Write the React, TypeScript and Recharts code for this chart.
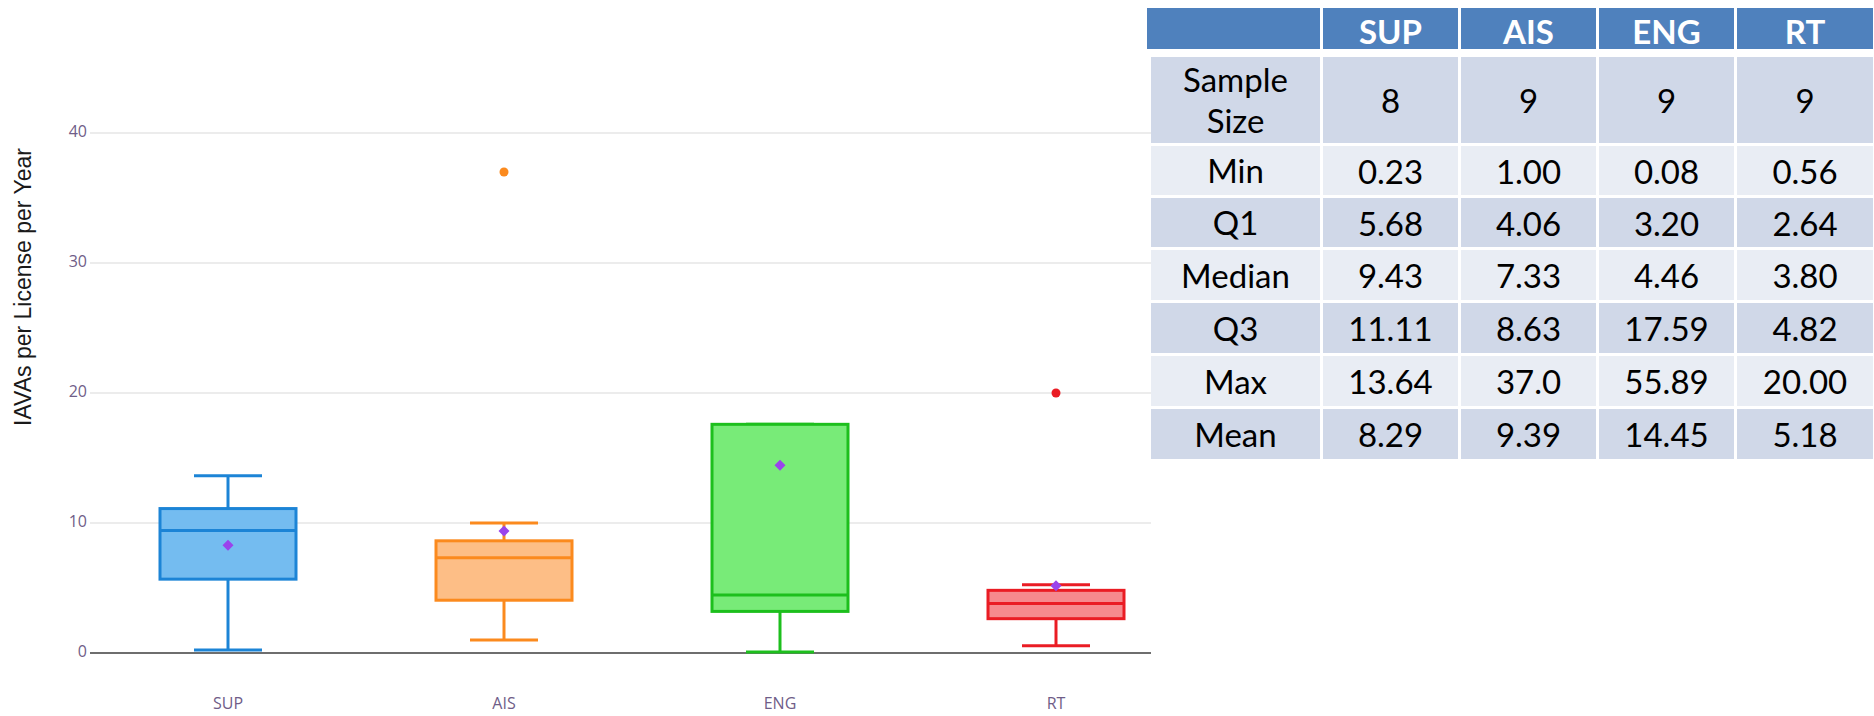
import React from "react";
import {
  ComposedChart,
  Bar,
  Scatter,
  XAxis,
  YAxis,
  CartesianGrid,
} from "recharts";

// chart values
const categories = ["SUP", "AIS", "ENG", "RT"];
const lows = [0.23, 1.0, 0.08, 0.56];
const q1s = [5.68, 4.06, 3.2, 2.64];
const medians = [9.43, 7.33, 4.46, 3.8];
const q3s = [11.11, 8.63, 17.59, 4.82];
const highs = [13.64, 10.0, 17.59, 5.25];
const means = [8.29, 9.39, 14.45, 5.18];
const outliers: (number | null)[] = [null, 37, null, 20];
const yTicks = [0, 10, 20, 30, 40];
const gridValues = [10, 20, 30, 40];

// summary table text
const tableColumns = ["SUP", "AIS", "ENG", "RT"];
const statLabels = ["Sample Size", "Min", "Q1", "Median", "Q3", "Max", "Mean"];
const sampleSizeText = ["8", "9", "9", "9"];
const minText = ["0.23", "1.00", "0.08", "0.56"];
const q1Text = ["5.68", "4.06", "3.20", "2.64"];
const medianText = ["9.43", "7.33", "4.46", "3.80"];
const q3Text = ["11.11", "8.63", "17.59", "4.82"];
const maxText = ["13.64", "37.0", "55.89", "20.00"];
const meanText = ["8.29", "9.39", "14.45", "5.18"];
const tableRows = [sampleSizeText, minText, q1Text, medianText, q3Text, maxText, meanText];

const boxStrokes = ["#1c84d6", "#fb8a1e", "#1dbf1d", "#ea1c24"];
const boxFills = ["#74bcf0", "#fdbe86", "#78eb78", "#f68a8e"];
const meanColor = "#9a43ec";
const tickColor = "#6f5d88";

const data = categories.map((name, i) => ({
  name,
  low: lows[i],
  q1: q1s[i],
  median: medians[i],
  q3: q3s[i],
  high: highs[i],
  mean: means[i],
  outlier: outliers[i],
}));

function BoxShape(props: any) {
  const { x, y, width, height, payload } = props;
  const i = categories.indexOf(payload.name);
  const span = payload.high - payload.low;
  // map a value into the bar's [low, high] pixel range
  const toY = (v: number) => y + (height * (payload.high - v)) / span;
  const cx = x + width / 2;
  const cap = width / 4;
  const stroke = boxStrokes[i];
  const yQ1 = toY(payload.q1);
  const yQ3 = toY(payload.q3);
  const yMed = toY(payload.median);
  const yLo = toY(payload.low);
  const yHi = toY(payload.high);
  return (
    <g>
      <line x1={cx} x2={cx} y1={yQ1} y2={yLo} stroke={stroke} strokeWidth={3} />
      <line x1={cx} x2={cx} y1={yQ3} y2={yHi} stroke={stroke} strokeWidth={3} />
      <line x1={cx - cap} x2={cx + cap} y1={yLo} y2={yLo} stroke={stroke} strokeWidth={3} />
      <line x1={cx - cap} x2={cx + cap} y1={yHi} y2={yHi} stroke={stroke} strokeWidth={3} />
      <rect
        x={x}
        y={yQ3}
        width={width}
        height={yQ1 - yQ3}
        fill={boxFills[i]}
        stroke={stroke}
        strokeWidth={3}
      />
      <line x1={x} x2={x + width} y1={yMed} y2={yMed} stroke={stroke} strokeWidth={3} />
    </g>
  );
}

function MeanShape(props: any) {
  const { cx, cy } = props;
  const r = 5.5;
  return (
    <path
      d={`M${cx},${cy - r} L${cx + r},${cy} L${cx},${cy + r} L${cx - r},${cy} Z`}
      fill={meanColor}
    />
  );
}

function OutlierShape(props: any) {
  const { cx, cy, payload } = props;
  if (payload.outlier == null || isNaN(cy)) return <g />;
  const i = categories.indexOf(payload.name);
  return <circle cx={cx} cy={cy} r={4.5} fill={boxStrokes[i]} />;
}

function XTick(props: any) {
  const { x, y, payload } = props;
  return (
    <text
      x={x}
      y={y + 52}
      textAnchor="middle"
      dominantBaseline="middle"
      fontFamily="'Open Sans', sans-serif"
      fontSize={16}
      fill={tickColor}
    >
      {payload.value}
    </text>
  );
}

function YTick(props: any) {
  const { x, y, payload } = props;
  return (
    <text
      x={x}
      y={y}
      textAnchor="end"
      dominantBaseline="middle"
      fontFamily="'Open Sans', sans-serif"
      fontSize={16}
      fill={tickColor}
    >
      {payload.value}
    </text>
  );
}

function StatsTable() {
  const colWidths = [135, 135, 135, 136];
  const font = "Lato, 'Open Sans', sans-serif";
  return (
    <>
      <div
        style={{
          position: "absolute",
          left: 1147,
          top: 8,
          display: "grid",
          gridTemplateColumns: `173px ${colWidths.map((w) => w + "px").join(" ")}`,
          gridTemplateRows: "41px",
          columnGap: 3,
          fontFamily: font,
        }}
      >
        <div style={{ background: "#4f81bd" }} />
        {tableColumns.map((c) => (
          <div
            key={c}
            style={{
              background: "#4f81bd",
              color: "#fff",
              fontWeight: 700,
              fontSize: 33,
              display: "flex",
              alignItems: "center",
              justifyContent: "center",
              paddingTop: 4,
            }}
          >
            {c}
          </div>
        ))}
      </div>
      <div
        style={{
          position: "absolute",
          left: 1151,
          top: 57,
          display: "grid",
          gridTemplateColumns: `169px ${colWidths.map((w) => w + "px").join(" ")}`,
          gridTemplateRows: "86px 49px 49px 50px 50px 50px 50px",
          gap: 3,
          background: "#fff",
          fontFamily: font,
          fontSize: 33,
          color: "#000",
        }}
      >
        {statLabels.map((label, r) => {
          const bg = r % 2 === 0 ? "#d0d8e8" : "#e9edf4";
          const cell: React.CSSProperties = {
            background: bg,
            display: "flex",
            alignItems: "center",
            justifyContent: "center",
            textAlign: "center",
          };
          return (
            <React.Fragment key={label}>
              <div style={{ ...cell, lineHeight: "41px" }}>
                {label === "Sample Size" ? (
                  <span>
                    Sample
                    <br />
                    Size
                  </span>
                ) : (
                  label
                )}
              </div>
              {tableRows[r].map((v, c) => (
                <div key={c} style={cell}>
                  {v}
                </div>
              ))}
            </React.Fragment>
          );
        })}
      </div>
    </>
  );
}

export default function App() {
  return (
    <div
      style={{
        position: "absolute",
        left: 0,
        top: 0,
        width: 1874,
        height: 716,
        background: "#fff",
        overflow: "hidden",
      }}
    >
      <div style={{ position: "absolute", left: 0, top: 0, width: 1151, height: 716, overflow: "hidden" }}>
        <ComposedChart
          width={1200}
          height={716}
          data={data}
          margin={{ top: 81, right: 6, bottom: 0, left: 0 }}
        >
          <CartesianGrid
            vertical={false}
            horizontalValues={gridValues}
            stroke="#ececec"
            strokeWidth={2}
          />
          <CartesianGrid
            vertical={false}
            horizontalValues={[0]}
            stroke="#6e6e6e"
            strokeWidth={2}
          />
          <XAxis
            dataKey="name"
            type="category"
            axisLine={false}
            tickLine={false}
            tickSize={0}
            tickMargin={0}
            height={63}
            tick={<XTick />}
            interval={0}
          />
          <YAxis
            type="number"
            domain={[0, 44]}
            ticks={yTicks}
            axisLine={false}
            tickLine={false}
            tickSize={0}
            tickMargin={3}
            width={90}
            tick={<YTick />}
            label={{
              content: (p: any) => {
                const vb = p.viewBox || { x: 0, y: 81, height: 572 };
                const cx = vb.x + 23;
                const cy = vb.y + vb.height - 366;
                return (
                  <text
                    x={cx}
                    y={cy}
                    transform={`rotate(-90, ${cx}, ${cy})`}
                    textAnchor="middle"
                    dominantBaseline="central"
                    fontFamily="Arial, 'Liberation Sans', sans-serif"
                    fontSize={23}
                    fill="#1a1a1a"
                  >
                    IAVAs per License per Year
                  </text>
                );
              },
            }}
          />
          <Bar
            dataKey={(d: any) => [d.low, d.high]}
            barSize={136}
            shape={<BoxShape />}
            isAnimationActive={false}
          />
          <Scatter dataKey="mean" shape={<MeanShape />} isAnimationActive={false} />
          <Scatter dataKey="outlier" shape={<OutlierShape />} isAnimationActive={false} />
        </ComposedChart>
      </div>
      <StatsTable />
    </div>
  );
}
